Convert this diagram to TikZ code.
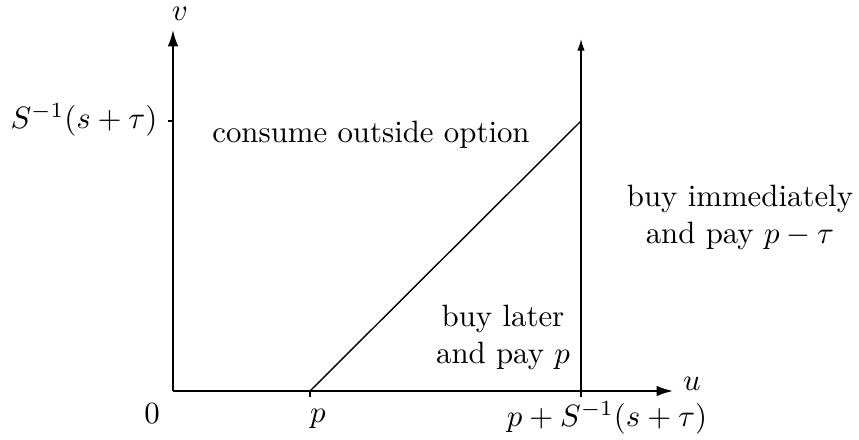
\documentclass[tikz,border=0pt]{standalone}
\usepackage{amsmath,amssymb}
\usetikzlibrary{arrows.meta,positioning,calc}

\begin{document}
\begin{tikzpicture}[x=0.0114cm,y=-0.0114cm,
	axis/.style={line width=0.95pt,-{Latex[length=5.6pt,width=3.4pt]}},
	thinline/.style={line width=0.45pt},
	lbl/.style={inner sep=0pt,align=center}]
	\useasboundingbox (0,0) rectangle (859,440);
	% axes
	\coordinate (O) at (173,391);
	\coordinate (V) at (173,29);
	\coordinate (U) at (674,391);
	\draw[axis] (O)--(V);
	\draw[axis] (O)--(U);
	
	% points on the axes
	\coordinate (P) at (310,391);
	\coordinate (Q) at (581,391);
	\coordinate (Qtop) at (581,39);
	\coordinate (R) at (581,121);
	\coordinate (S) at (173,121);
	
	% ticks
	\draw[thinline] (S)--++(-5,0);
	\draw[thinline] (P)--++(0,6);
	\draw[thinline] (Q)--++(0,6);
	
	% boundaries
	\draw[thinline] (P)--(R);
	\draw[thinline,-{Latex[length=3.8pt,width=2.4pt]}] (Q)--(Qtop);
	
	% axis labels
	\node[lbl] (v) at (180,14) {$v$};
	\node[lbl] (u) at (692,384) {$u$};
	\node[lbl] (zero) at (152,414) {$0$};
	\node[lbl] (p) at (318,419) {$p$};
	\node[lbl] (pS) at (607,418) {$p+S^{-1}(s+\tau)$};
	\node[lbl] (Sinv) at (84,120) {$S^{-1}(s+\tau)$};
	
	% regions
	\node[lbl] (outside) at (371,135) {consume outside option};
	\node[lbl] (immed) at (740,217) {buy immediately\\ and pay $p-\tau$};
	\node[lbl] (later) at (503,337) {buy later\\ and pay $p$};
\end{tikzpicture}
\end{document}
